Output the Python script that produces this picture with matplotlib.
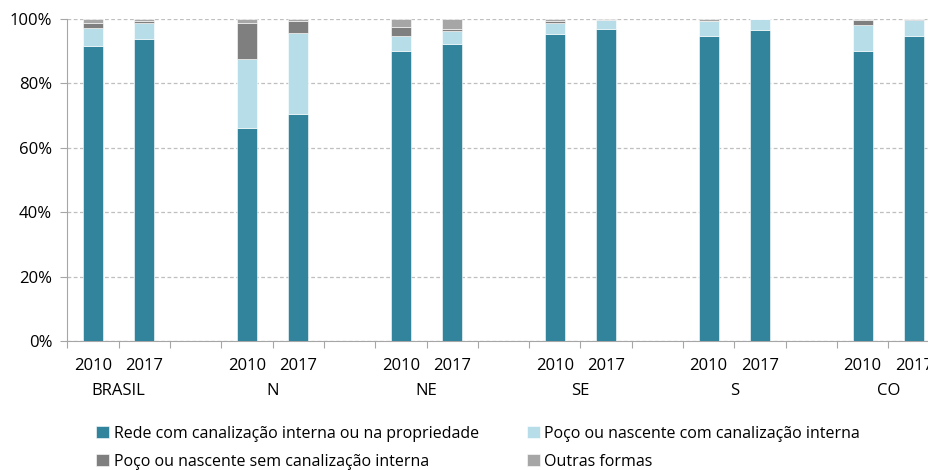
import numpy as np
import matplotlib
matplotlib.use("Agg")
import matplotlib.pyplot as plt
from matplotlib.transforms import blended_transform_factory

plt.rcParams['font.family'] = ['Open Sans', 'DejaVu Sans']

# === Dados ===
regioes = ["BRASIL", "N", "NE", "SE", "S", "CO"]
anos = ["2010", "2017"]
rede = [91.7, 93.8, 66.1, 70.5, 90.2, 92.3, 95.3, 96.8, 94.7, 96.7, 90.0, 94.8]
poco_com = [5.5, 4.9, 21.6, 25.1, 4.6, 4.1, 3.4, 2.9, 4.8, 3.3, 8.0, 4.9]
poco_sem = [1.7, 0.7, 11.2, 3.7, 2.6, 0.5, 0.7, 0.0, 0.0, 0.0, 1.7, 0.2]
outras = [1.1, 0.6, 1.1, 0.7, 2.6, 3.1, 0.6, 0.3, 0.5, 0.0, 0.3, 0.1]
series = ["Rede com canalização interna ou na propriedade",
          "Poço ou nascente com canalização interna",
          "Poço ou nascente sem canalização interna",
          "Outras formas"]
cores = ["#31849B", "#B7DEE8", "#7F7F7F", "#A6A6A6"]

# === Posições (2 barras por região + 1 espaço vazio) ===
pos = []
for i in range(len(regioes)):
    pos += [i * 3, i * 3 + 1]
pos = np.array(pos)

fig = plt.figure(figsize=(9.29, 4.70), dpi=100)
ax = fig.add_axes([0.0726, 0.2745, 0.9387, 0.685])

base = np.zeros(len(pos))
handles = []
for vals, cor, nome in zip([rede, poco_com, poco_sem, outras], cores, series):
    h = ax.bar(pos, vals, bottom=base, width=0.39, color=cor, label=nome,
               edgecolor="white", linewidth=0.4, zorder=3)
    handles.append(h)
    base += np.array(vals)

ax.set_xlim(-0.5, 16.5)
ax.set_ylim(0, 100)
ax.set_yticks(range(0, 101, 20))
ax.set_yticklabels([f"{v}%" for v in range(0, 101, 20)], fontsize=12)
ax.yaxis.grid(True, linestyle=(0, (3, 2)), color="#BFBFBF", linewidth=0.9, zorder=0)

# marcas nos limites das posições, rótulos dos anos nos centros
ax.set_xticks(np.arange(-0.5, 17, 1))
ax.set_xticklabels([])
ax.set_xticks(pos, minor=True)
ax.set_xticklabels(anos * len(regioes), minor=True, fontsize=12)
ax.tick_params(axis="x", which="major", length=5, color="#A6A6A6", direction="out")
ax.tick_params(axis="x", which="minor", length=0, pad=12)
ax.tick_params(axis="y", length=5, color="#A6A6A6", pad=6)

trans = blended_transform_factory(ax.transData, ax.transAxes)
for i, r in enumerate(regioes):
    ax.text(i * 3 + 0.5, -0.155, r, transform=trans, ha="center", va="center",
            fontsize=12)

for s in ["top", "right"]:
    ax.spines[s].set_visible(False)
for s in ["left", "bottom"]:
    ax.spines[s].set_color("#A6A6A6")

# legenda preenchida por linhas (matplotlib preenche por colunas)
ordem = [0, 2, 1, 3]
ax.legend([handles[i] for i in ordem], [series[i] for i in ordem],
          loc="upper left", bbox_to_anchor=(0.088, 0.125), bbox_transform=fig.transFigure,
          ncol=2, frameon=False, fontsize=11.5, handlelength=0.8, handleheight=0.8,
          handletextpad=0.3, columnspacing=3.0, labelspacing=0.75)

fig.savefig("out.png", dpi=100)
